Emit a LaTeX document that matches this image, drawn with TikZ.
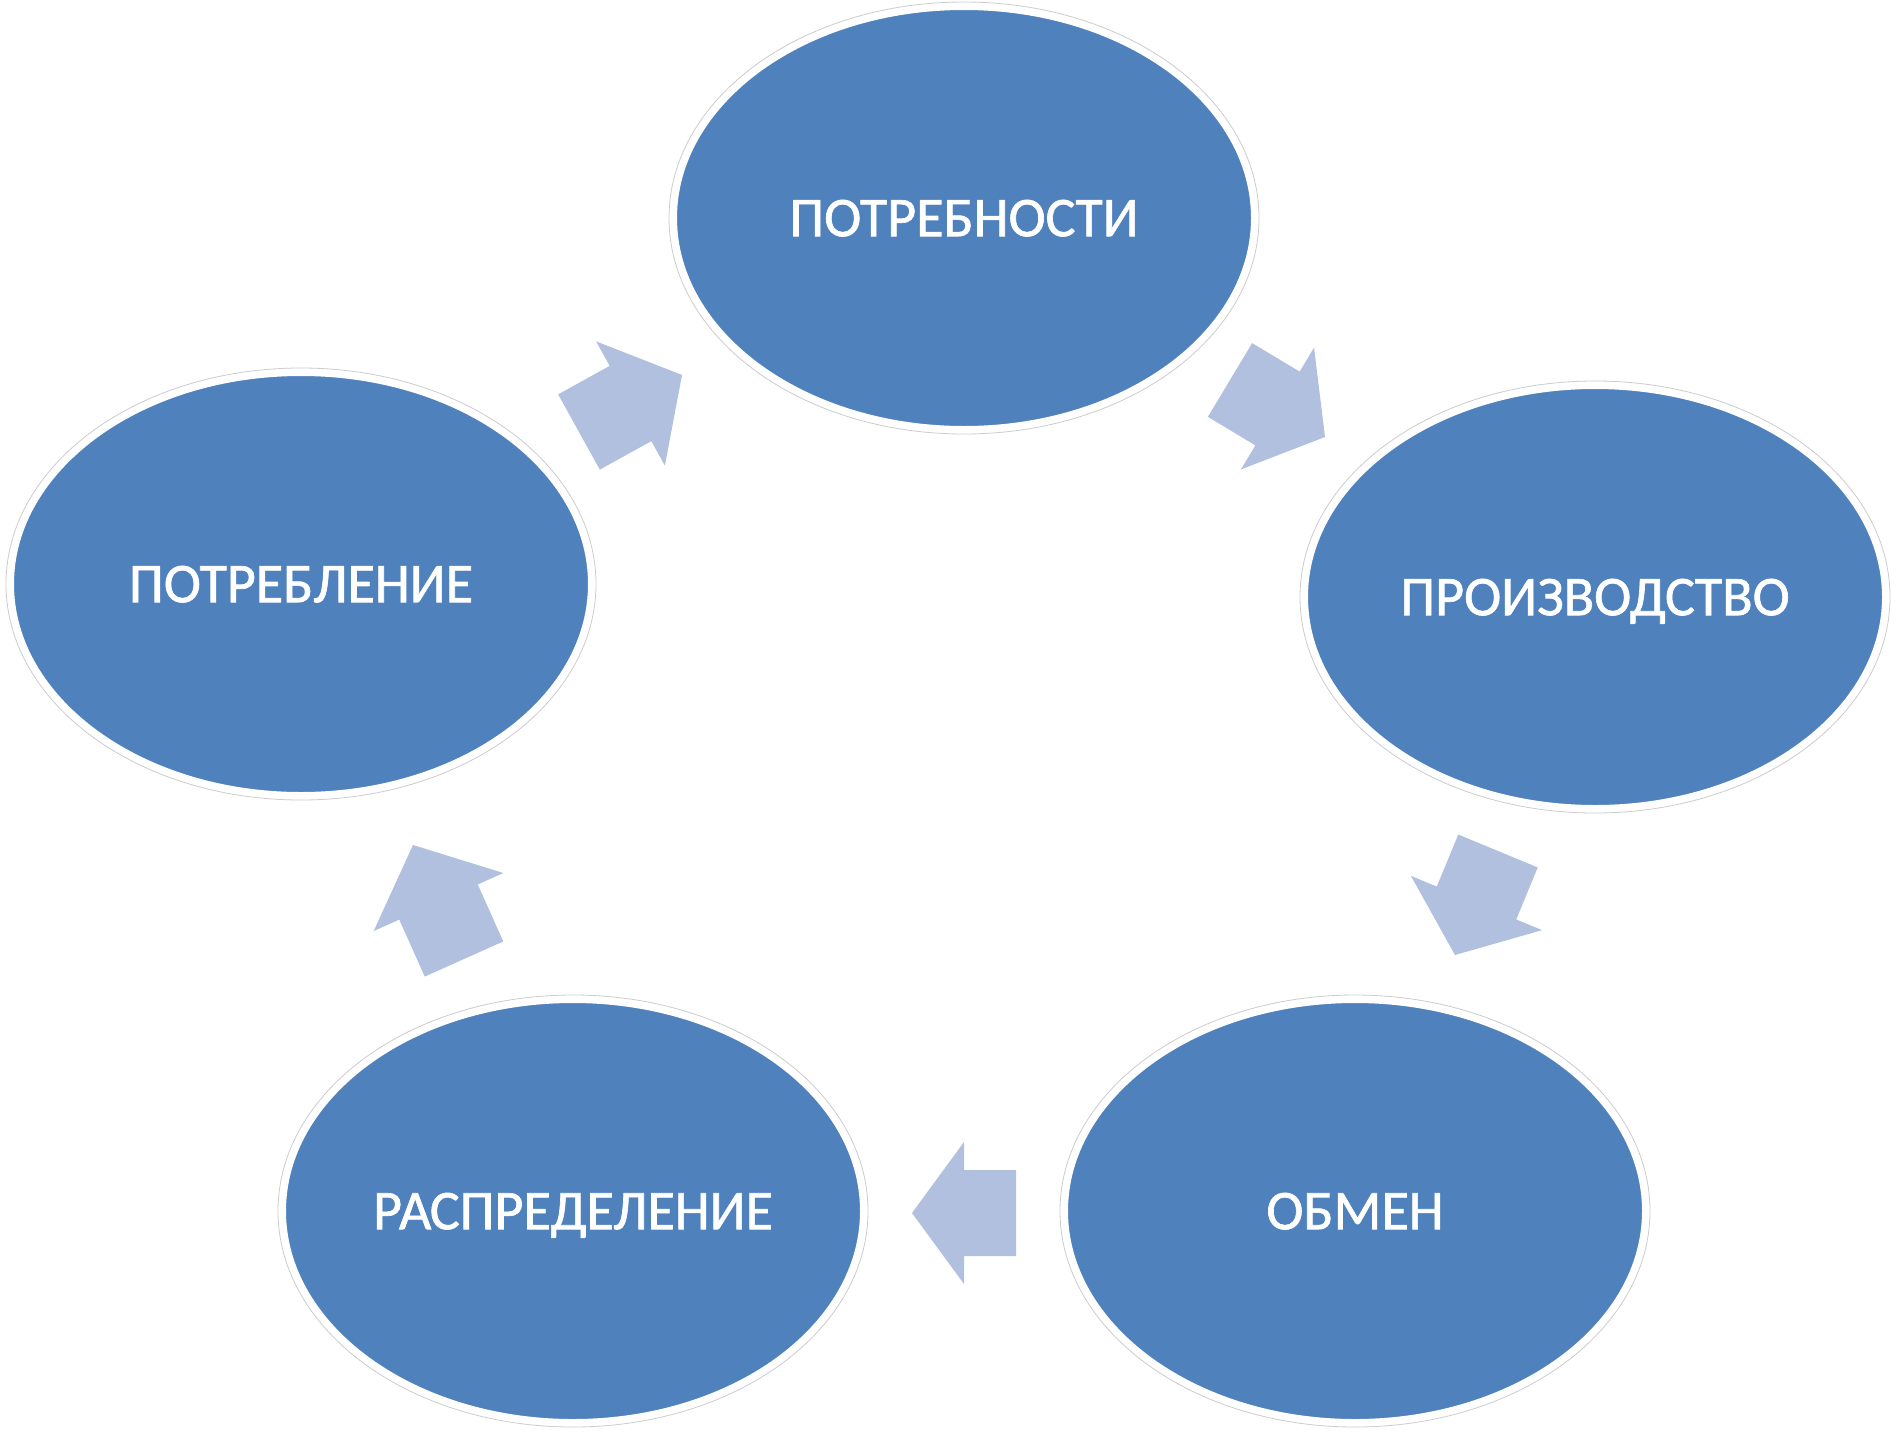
\documentclass[tikz,border=0pt]{standalone}
\usepackage{fontspec}
\setmainfont{Carlito}
\newfontfamily\labelfont{Carlito}[FakeBold=1.2]
\usetikzlibrary{shapes.geometric,calc}
\definecolor{bluefill}{HTML}{4F81BD}
\definecolor{arrowfill}{HTML}{B0C0DE}
\newcommand\cyclearrow[2]{%
  \coordinate (#1m) at ($(#1)!0.5!(#2)$);
  \fill[blockarrow] ($(#1)!43pt!90:(#2)$) -- ($(#1)!43pt!-90:(#2)$)
    -- ($(#1m)!43pt!-90:(#2)$) -- ($(#1m)!71pt!-90:(#2)$) -- (#2)
    -- ($(#1m)!71pt!90:(#2)$) -- ($(#1m)!43pt!90:(#2)$) -- cycle;}
\begin{document}
\begin{tikzpicture}[x=1pt,y=-1pt,
  stage/.style={ellipse, fill=bluefill, draw=white, line width=8pt,
    minimum width=582pt, minimum height=424pt, inner sep=0pt, text depth=0pt,
    text=white, font=\labelfont\fontsize{56}{60}\selectfont},
  rim/.style={draw=black!20, line width=0.8pt},
  blockarrow/.style={fill=arrowfill}]
\useasboundingbox (0,0) rectangle (1897,1440);
\fill[white] (0,0) rectangle (1897,1440);
\node[stage] (need) at (964,218) {ПОТРЕБНОСТИ};
\node[stage] (prod) at (1595,597) {ПРОИЗВОДСТВО};
\node[stage] (exch) at (1355,1211) {ОБМЕН};
\node[stage] (dist) at (573,1211) {РАСПРЕДЕЛЕНИЕ};
\node[stage] (cons) at (301,584) {ПОТРЕБЛЕНИЕ};
\foreach \n in {need,prod,exch,dist,cons}
  \draw[rim] (\n.center) ellipse [x radius=295, y radius=216];
\coordinate (a1t) at (579,432);  \coordinate (a1h) at (682,375);
\coordinate (a2t) at (1230,380); \coordinate (a2h) at (1325,437);
\coordinate (a3t) at (1498,851); \coordinate (a3h) at (1455,955);
\coordinate (a4t) at (1016,1213); \coordinate (a4h) at (912,1213);
\coordinate (a5t) at (464,959);  \coordinate (a5h) at (413,845);
\cyclearrow{a1t}{a1h}
\cyclearrow{a2t}{a2h}
\cyclearrow{a3t}{a3h}
\cyclearrow{a4t}{a4h}
\cyclearrow{a5t}{a5h}
\end{tikzpicture}
\end{document}
